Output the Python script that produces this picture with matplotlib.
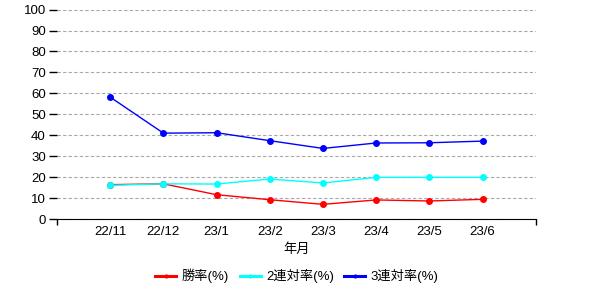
import matplotlib
matplotlib.use("Agg")
import matplotlib.pyplot as plt
from matplotlib.lines import Line2D

plt.rcParams['font.family'] = ['Liberation Sans', 'Noto Sans CJK JP', 'DejaVu Sans']

months = ["22/11", "22/12", "23/1", "23/2", "23/3", "23/4", "23/5", "23/6"]
win = [16.4, 16.8, 11.6, 9.2, 7.0, 9.1, 8.6, 9.4]
top2 = [16.1, 16.8, 16.7, 19.1, 17.2, 19.9, 19.9, 19.9]
top3 = [58.2, 41.0, 41.2, 37.4, 33.7, 36.3, 36.4, 37.2]
names = ["勝率(%)", "2連対率(%)", "3連対率(%)"]
colors = ["red", "cyan", "blue"]

fig = plt.figure(figsize=(6, 3), dpi=100)
ax = fig.add_axes([0.095, 0.27, 0.798, 0.698])

x = list(range(1, len(months) + 1))
for vals, c, n in zip([win, top2, top3], colors, names):
    ax.plot(x, vals, color=c, lw=1, marker="o", ms=4, label=n)

ax.set_xlim(0, 9)
ax.set_ylim(0, 100)
ax.set_yticks(range(0, 101, 10))
ax.set_xticks(x)
ax.set_xticklabels(months)
ax.set_xticks([0, 9], minor=True)
ax.tick_params(axis="x", which="major", length=0, labelsize=9.5, pad=5)
ax.tick_params(axis="x", which="minor", length=4, width=1)
ax.tick_params(axis="y", length=6, width=1, labelsize=9.5, pad=2)
ax.grid(axis="y", color="#a8a8a8", ls=(0, (3, 2)), lw=0.8)
for s in ["top", "right", "left"]:
    ax.spines[s].set_visible(False)
ax.set_xlabel("年月", fontsize=9.5, labelpad=4)

handles = [Line2D([], [], color=c, lw=2.2, marker="o", ms=2) for c in colors]
fig.legend(handles, names, loc="center", bbox_to_anchor=(0.495, 0.08),
           ncol=3, frameon=False, fontsize=9.5, handlelength=1.6,
           columnspacing=0.8, handletextpad=0.4)

fig.savefig("out.png", dpi=100)
